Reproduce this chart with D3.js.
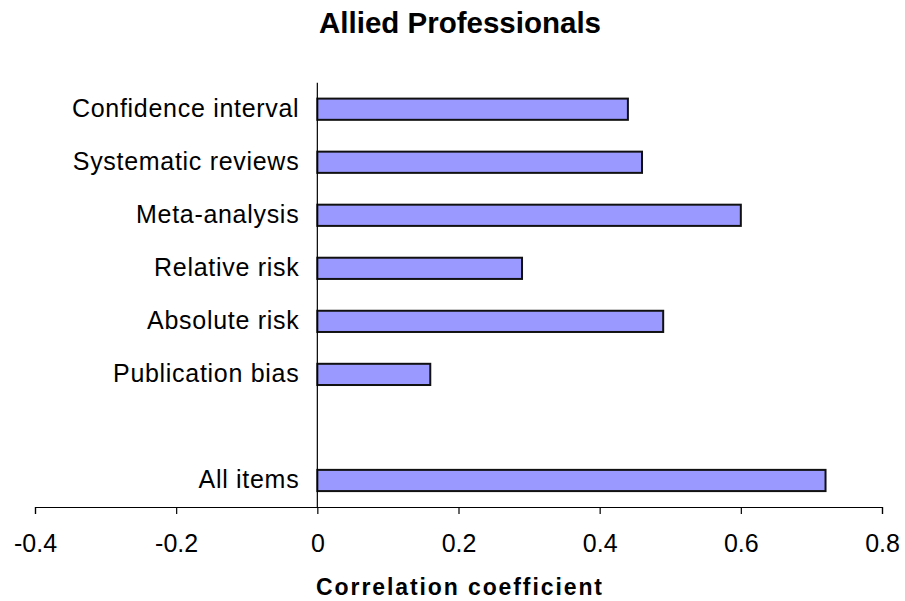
<!DOCTYPE html>
<html>
<head>
<meta charset="utf-8" />
<script src="https://d3js.org/d3.v7.min.js"></script>
<style>
  body { margin: 0; background: #fff; }
  text { font-family: "Liberation Sans", Arial, sans-serif; fill: #000; }
</style>
</head>
<body>
<div id="visu"></div>
<script>
// dimensions
const largeur = 905;
const hauteur = 601;

// data (blank entry = gap before "All items")
const categories = ["Confidence interval", "Systematic reviews", "Meta-analysis", "Relative risk", "Absolute risk", "Publication bias", "", "All items"];
const valeurs = [0.44, 0.46, 0.60, 0.29, 0.49, 0.16, null, 0.72];
const ticksX = [-0.4, -0.2, 0, 0.2, 0.4, 0.6, 0.8];

const svg = d3.select('#visu').append('svg')
  .attr('width', largeur)
  .attr('height', hauteur);

const echelleX = d3.scaleLinear()
  .domain([-0.4, 0.8])
  .range([35, 882]);

const echelleY = d3.scaleBand()
  .domain(categories)
  .range([82.7, 507])
  .paddingInner(0.6)
  .paddingOuter(0.3);

// bars
const donnees = categories.map((c, i) => ({cat: c, val: valeurs[i]})).filter(d => d.val !== null);

svg.append('g').selectAll('rect')
  .data(donnees)
  .join('rect')
  .attr('x', d => echelleX(Math.min(0, d.val)))
  .attr('y', d => echelleY(d.cat))
  .attr('width', d => Math.abs(echelleX(d.val) - echelleX(0)))
  .attr('height', echelleY.bandwidth())
  .attr('fill', '#9999ff')
  .attr('stroke', '#111')
  .attr('stroke-width', 2);

// x axis
svg.append('g')
  .attr('transform', `translate(0, 507)`)
  .call(d3.axisBottom(echelleX).tickValues(ticksX).tickFormat(d => String(d)).tickSize(7).tickPadding(20))
  .call(g => g.selectAll('path, line').attr('stroke', '#000').attr('stroke-width', 1.2))
  .call(g => g.selectAll('text').attr('font-size', 25).attr('font-family', '"Liberation Sans", Arial, sans-serif'));

// y axis (at zero)
svg.append('g')
  .attr('transform', `translate(${echelleX(0)}, 0)`)
  .call(d3.axisLeft(echelleY).tickSize(0).tickSizeOuter(0).tickPadding(18))
  .call(g => g.select('.domain').attr('d', `M0,82.7V507`).attr('stroke', '#000').attr('stroke-width', 1.2))
  .call(g => g.selectAll('text').attr('font-size', 25).attr('letter-spacing', 0.7).attr('font-family', '"Liberation Sans", Arial, sans-serif'));

// titles
svg.append('text')
  .attr('x', 460)
  .attr('y', 33)
  .attr('text-anchor', 'middle')
  .attr('font-size', 29.5)
  .attr('font-weight', 'bold')
  .text('Allied Professionals');

svg.append('text')
  .attr('x', 460)
  .attr('y', 595)
  .attr('text-anchor', 'middle')
  .attr('font-size', 23)
  .attr('font-weight', 'bold')
  .attr('letter-spacing', 1.9)
  .text('Correlation coefficient');
</script>
</body>
</html>
